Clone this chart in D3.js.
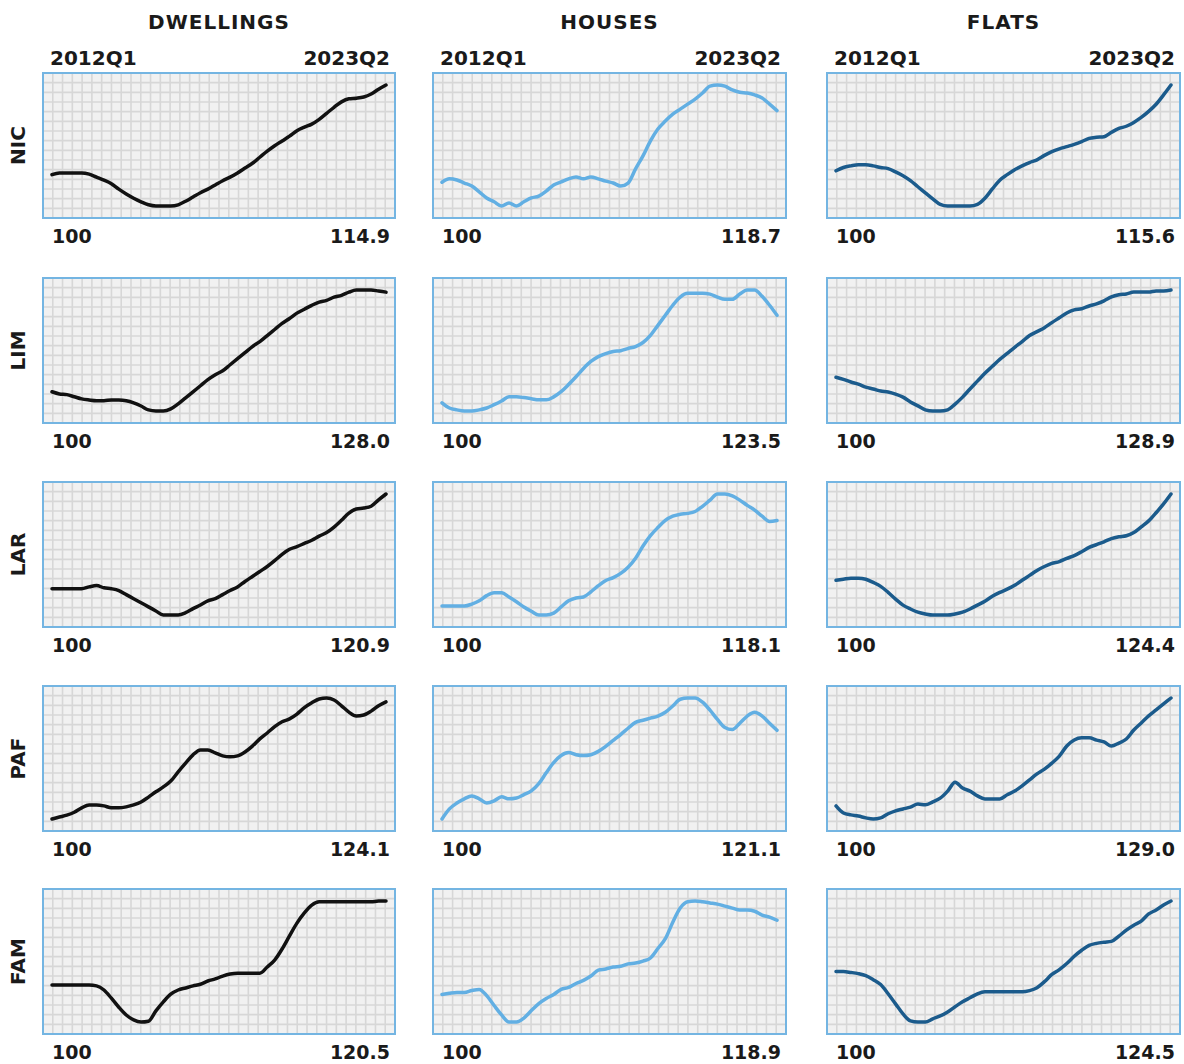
<!DOCTYPE html>
<html><head><meta charset="utf-8">
<script src="https://cdn.jsdelivr.net/npm/d3@7"></script>
<style>html,body{margin:0;padding:0;background:#fff;} svg{display:block;}</style>
</head><body><svg id="c" width="1184" height="1064"></svg>
<script>
const quarters = ["2012Q1","2012Q2","2012Q3","2012Q4","2013Q1","2013Q2","2013Q3","2013Q4","2014Q1","2014Q2","2014Q3","2014Q4","2015Q1","2015Q2","2015Q3","2015Q4","2016Q1","2016Q2","2016Q3","2016Q4","2017Q1","2017Q2","2017Q3","2017Q4","2018Q1","2018Q2","2018Q3","2018Q4","2019Q1","2019Q2","2019Q3","2019Q4","2020Q1","2020Q2","2020Q3","2020Q4","2021Q1","2021Q2","2021Q3","2021Q4","2022Q1","2022Q2","2022Q3","2022Q4","2023Q1","2023Q2"];
const types = ["DWELLINGS","HOUSES","FLATS"];
const regions = ["NIC","LIM","LAR","PAF","FAM"];

const nicDwellings = [100.0,100.3,100.3,100.3,100.3,100.1,99.6,99.1,98.5,97.6,96.8,96.1,95.5,95.0,94.8,94.8,94.8,95.0,95.6,96.3,97.0,97.6,98.3,99.0,99.6,100.3,101.1,101.9,102.9,103.9,104.8,105.6,106.4,107.3,107.9,108.4,109.2,110.2,111.2,112.1,112.6,112.7,112.9,113.4,114.2,114.9];
const nicHouses = [100.0,100.9,100.6,99.8,99.0,97.5,95.9,94.9,93.8,94.6,93.8,94.9,95.9,96.4,97.7,99.3,100.1,100.9,101.4,100.9,101.4,100.9,100.3,99.8,99.0,99.8,103.5,106.9,110.8,113.9,116.0,117.8,119.1,120.4,121.7,123.3,125.1,125.4,125.1,124.1,123.5,123.3,122.8,122.0,120.4,118.7];
const nicFlats = [100.0,100.6,100.9,101.1,101.1,100.9,100.6,100.4,99.8,99.1,98.2,97.1,96.0,94.9,93.9,93.6,93.6,93.6,93.6,93.9,95.0,96.7,98.3,99.3,100.2,100.9,101.5,102.0,102.8,103.5,104.0,104.4,104.8,105.3,105.9,106.1,106.2,107.0,107.7,108.1,108.8,109.7,110.8,112.1,113.8,115.6];
const limDwellings = [100.0,99.4,99.2,98.6,98.0,97.7,97.5,97.5,97.7,97.7,97.5,96.9,96.0,94.9,94.6,94.6,95.2,96.6,98.3,100.0,101.7,103.4,104.8,105.9,107.6,109.3,111.0,112.7,114.1,115.8,117.5,119.2,120.6,122.1,123.2,124.3,125.2,125.7,126.6,127.1,128.0,128.6,128.6,128.6,128.3,128.0];
const limHouses = [100.0,98.6,98.1,97.8,97.8,98.1,98.6,99.5,100.5,101.6,101.6,101.4,101.1,100.8,100.8,101.6,103.0,104.9,107.0,109.2,111.1,112.4,113.2,113.8,114.0,114.6,115.1,116.2,118.1,120.8,123.5,126.2,128.4,129.4,129.4,129.4,129.2,128.4,127.8,127.8,129.2,130.3,130.3,128.6,126.2,123.5];
const limFlats = [100.0,99.3,98.4,97.7,96.7,96.1,95.4,95.1,94.4,93.4,91.8,90.5,89.2,88.8,88.8,89.2,91.1,93.4,96.1,98.7,101.3,103.6,105.9,107.9,109.9,111.8,113.8,115.1,116.4,118.1,119.7,121.3,122.3,122.7,123.6,124.3,125.3,126.6,127.3,127.6,128.2,128.2,128.2,128.6,128.6,128.9];
const larDwellings = [100.0,100.0,100.0,100.0,100.0,100.4,100.7,100.2,100.0,99.6,98.7,97.8,96.9,96.0,95.1,94.2,94.2,94.2,94.7,95.6,96.4,97.3,97.8,98.7,99.6,100.4,101.6,102.7,103.8,104.9,106.2,107.6,108.7,109.3,110.0,110.7,111.6,112.4,113.6,115.1,116.7,117.6,117.8,118.2,119.6,120.9];
const larHouses = [100.0,100.0,100.0,100.0,100.4,101.1,102.2,102.8,102.8,101.9,100.9,99.8,98.9,98.1,98.1,98.5,99.8,101.1,101.7,101.9,103.0,104.3,105.4,106.0,106.9,108.2,110.1,112.7,114.9,116.6,118.1,119.0,119.4,119.6,120.0,121.1,122.4,123.7,123.7,123.3,122.4,121.3,120.3,119.0,117.9,118.1];
const larFlats = [100.0,100.3,100.6,100.6,100.3,99.4,98.3,96.6,94.7,93.0,91.9,91.0,90.5,90.2,90.2,90.2,90.5,91.0,91.9,93.0,94.1,95.5,96.6,97.5,98.6,100.0,101.4,102.8,103.9,104.8,105.3,106.2,107.0,108.1,109.3,110.1,110.9,111.8,112.3,112.6,113.5,115.1,116.8,119.1,121.6,124.4];
const pafDwellings = [100.0,100.4,100.8,101.4,102.3,102.9,102.9,102.7,102.3,102.3,102.5,102.9,103.5,104.5,105.6,106.6,107.8,109.7,111.5,113.2,114.2,114.2,113.6,113.0,112.8,113.0,113.8,115.0,116.5,117.7,119.0,120.0,120.6,121.6,122.9,123.9,124.7,124.9,124.5,123.3,122.0,121.2,121.4,122.2,123.3,124.1];
const pafHouses = [100.0,102.4,103.8,104.8,105.5,104.8,103.8,104.3,105.3,104.8,105.0,105.8,106.7,108.4,111.0,113.4,115.1,115.8,115.3,115.1,115.3,116.1,117.3,118.7,120.1,121.6,123.0,123.5,124.0,124.5,125.4,126.9,128.5,128.8,128.8,127.8,125.9,123.7,121.8,121.3,122.8,124.5,125.4,124.5,122.8,121.1];
const pafFlats = [100.0,98.1,97.6,97.3,96.8,96.5,96.8,97.9,98.7,99.2,99.7,100.5,100.3,101.1,102.1,104.0,106.4,104.8,104.0,102.7,101.9,101.9,101.9,103.0,104.0,105.4,107.0,108.6,109.9,111.5,113.4,116.1,117.7,118.3,118.3,117.7,117.2,116.1,116.9,118.0,120.4,122.3,124.2,125.8,127.4,129.0];
const famDwellings = [100.0,100.0,100.0,100.0,100.0,100.0,99.8,98.8,96.8,94.6,92.7,91.5,91.0,91.2,93.7,95.9,97.8,98.8,99.3,99.8,100.2,101.0,101.5,102.2,102.7,102.9,102.9,102.9,102.9,104.4,106.1,108.8,112.0,115.1,117.6,119.5,120.3,120.3,120.3,120.3,120.3,120.3,120.3,120.3,120.5,120.5];
const famHouses = [100.0,100.3,100.5,100.5,101.0,101.3,99.7,97.2,94.8,93.0,93.0,94.0,95.9,97.7,99.0,100.0,101.3,101.8,102.8,103.6,104.7,106.2,106.5,107.0,107.2,107.8,108.0,108.5,109.3,111.7,114.2,118.4,122.0,123.6,123.8,123.6,123.3,123.0,122.5,122.0,121.5,121.5,121.2,120.2,119.7,118.9];
const famFlats = [100.0,100.0,99.7,99.3,98.6,97.2,95.5,92.3,88.8,85.3,82.9,82.5,82.5,83.6,84.6,86.0,87.8,89.5,90.9,92.3,93.0,93.0,93.0,93.0,93.0,93.0,93.4,94.4,96.5,99.0,100.7,102.8,105.3,107.4,109.1,109.8,110.2,110.5,112.3,114.4,116.1,117.5,120.0,121.4,123.1,124.5];

const panelSeries = [
  [nicDwellings, nicHouses, nicFlats],
  [limDwellings, limHouses, limFlats],
  [larDwellings, larHouses, larFlats],
  [pafDwellings, pafHouses, pafFlats],
  [famDwellings, famHouses, famFlats]
];
const startLabel = "100";
const endLabels = [
  ["114.9","118.7","115.6"],
  ["128.0","123.5","128.9"],
  ["120.9","118.1","124.4"],
  ["124.1","121.1","129.0"],
  ["120.5","118.9","124.5"]
];

const lineColors = ["#111111", "#62afe3", "#1b5b8c"];
const colX = [43, 433, 827];
const colW = [352, 353, 353];
const rowY = [73, 278, 482, 686, 889];
const panelH = 145;
const FONT = "'DejaVu Sans', sans-serif";

const svg = d3.select("#c");
const defs = svg.append("defs");

types.forEach((t, c) => {
  svg.append("text").attr("x", colX[c] + colW[c] / 2).attr("y", 29)
    .attr("text-anchor", "middle").attr("font-family", FONT).attr("font-weight", "bold")
    .attr("font-size", 20).attr("letter-spacing", 1).attr("fill", "#1a1a1a").text(t);
  svg.append("text").attr("x", colX[c] + 7).attr("y", 65)
    .attr("font-family", FONT).attr("font-weight", "bold").attr("font-size", 20)
    .attr("fill", "#1a1a1a").text(quarters[0]);
  svg.append("text").attr("x", colX[c] + colW[c] - 5).attr("y", 65).attr("text-anchor", "end")
    .attr("font-family", FONT).attr("font-weight", "bold").attr("font-size", 20)
    .attr("fill", "#1a1a1a").text(quarters[quarters.length - 1]);
});

regions.forEach((r, ri) => {
  const top = rowY[ri];
  svg.append("text")
    .attr("transform", `translate(${25},${top + panelH / 2}) rotate(-90)`)
    .attr("text-anchor", "middle").attr("font-family", FONT).attr("font-weight", "bold")
    .attr("font-size", 20).attr("fill", "#1a1a1a").text(r);

  types.forEach((t, c) => {
    const left = colX[c], w = colW[c];
    const g = svg.append("g");
    const clipId = `clip-${ri}-${c}`;
    defs.append("clipPath").attr("id", clipId).append("rect")
      .attr("x", left).attr("y", top).attr("width", w).attr("height", panelH);

    g.append("rect").attr("x", left).attr("y", top).attr("width", w).attr("height", panelH)
      .attr("fill", "#f1f1f1");

    const grid = g.append("g").attr("clip-path", `url(#${clipId})`)
      .attr("stroke", "#d7d7d7").attr("stroke-width", 1.6);
    const nx = 36, ny = 15;
    const gx = d3.scaleLinear().domain([0, nx]).range([left, left + w]);
    const gy = d3.scaleLinear().domain([0, ny]).range([top, top + panelH]);
    d3.range(1, nx).forEach(i => grid.append("line")
      .attr("x1", gx(i)).attr("x2", gx(i)).attr("y1", top).attr("y2", top + panelH));
    d3.range(1, ny).forEach(j => grid.append("line")
      .attr("y1", gy(j)).attr("y2", gy(j)).attr("x1", left).attr("x2", left + w));

    const vals = panelSeries[ri][c];
    const x = d3.scalePoint().domain(quarters).range([left + 9, left + w - 9]);
    const y = d3.scaleLinear().domain(d3.extent(vals)).range([top + panelH - 12, top + 12]);
    const line = d3.line().x((d, i) => x(quarters[i])).y(d => y(d)).curve(d3.curveMonotoneX);
    g.append("path").datum(vals).attr("d", line).attr("fill", "none")
      .attr("stroke", lineColors[c]).attr("stroke-width", 3.5)
      .attr("stroke-linejoin", "round").attr("stroke-linecap", "round");

    g.append("rect").attr("x", left).attr("y", top).attr("width", w).attr("height", panelH)
      .attr("fill", "none").attr("stroke", "#74b5e2").attr("stroke-width", 2);

    svg.append("text").attr("x", left + 9).attr("y", top + panelH + 25)
      .attr("font-family", FONT).attr("font-weight", "bold").attr("font-size", 19)
      .attr("fill", "#1a1a1a").text(startLabel);
    svg.append("text").attr("x", left + w - 5).attr("y", top + panelH + 25).attr("text-anchor", "end")
      .attr("font-family", FONT).attr("font-weight", "bold").attr("font-size", 19)
      .attr("fill", "#1a1a1a").text(endLabels[ri][c]);
  });
});
</script></body></html>
